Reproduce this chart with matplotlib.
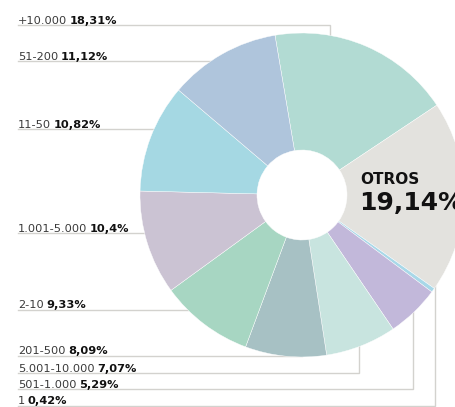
import matplotlib
matplotlib.use('Agg')
import matplotlib.pyplot as plt
import numpy as np

W, H = 456, 407  # output size in px (dpi 100)

# slices, clockwise starting at the top
categories = ['+10.000', 'OTROS', '1', '501-1.000', '5.001-10.000',
              '201-500', '2-10', '1.001-5.000', '11-50', '51-200']
shares = [18.31, 19.14, 0.42, 5.29, 7.07, 8.09, 9.33, 10.4, 10.82, 11.12]
colors = ['#b2dbd3', '#e3e2de', '#a8d8e8', '#c2b8da', '#c8e4df',
          '#a7c1c4', '#a7d6c2', '#cbc3d3', '#a5d8e3', '#afc5dc']

# labels on the left, top to bottom, with the row of their leader line (px from top)
label_order = ['+10.000', '51-200', '11-50', '1.001-5.000', '2-10',
               '201-500', '5.001-10.000', '501-1.000', '1']
label_rows = [25, 61, 129, 233, 310, 356, 373, 389, 406]
# labels whose line bends and goes vertically to the ring (x in px)
elbow_x = {'+10.000': 330, '5.001-10.000': 359, '501-1.000': 413, '1': 435}

cx, cy = 302, H - 195   # pie centre (y up)
R, r = 162, 45          # outer radius, hole radius
line_col = '#d3d2ce'

fig = plt.figure(figsize=(W / 100, H / 100), dpi=100)
ax = fig.add_axes([0, 0, 1, 1])

wedges, _ = ax.pie(shares, colors=colors, center=(cx, cy), radius=R,
                   startangle=99.6, counterclock=False,
                   wedgeprops=dict(width=R - r, edgecolor='white', linewidth=0.3))
for w in wedges:
    w.set_zorder(3)

ax.set_xlim(0, W)
ax.set_ylim(0, H)
ax.set_aspect('auto')
ax.axis('off')

for name, row in zip(label_order, label_rows):
    y = H - row
    val = shares[categories.index(name)]
    pct = f"{val:g}".replace('.', ',') + '%'
    if name in elbow_x:
        x = elbow_x[name]
        dx = x - cx
        dy = np.sqrt((R - 4) ** 2 - dx ** 2)
        y_end = cy + dy if y > cy else cy - dy
        ax.plot([18, x, x], [y, y, y_end], color=line_col, lw=1.0, zorder=1,
                solid_joinstyle='miter')
    else:
        dy = cy - y
        x_end = cx - np.sqrt(max((R - 4) ** 2 - dy ** 2, 0))
        ax.plot([18, x_end], [y, y], color=line_col, lw=1.0, zorder=1)
    t = ax.text(18, y + 1.5, name, fontsize=8.2, color='#3a3a3a',
                va='baseline', ha='left', family='DejaVu Sans')
    ax.annotate(pct, xy=(1, 0), xycoords=t, xytext=(1.8, 0),
                textcoords='offset points', fontsize=8.2, fontweight='bold',
                color='#111111', va='bottom', ha='left', family='DejaVu Sans')

# big label for the largest slice
ax.text(360, H - 179, 'OTROS', fontsize=11, fontweight='bold', color='#111111',
        va='center', ha='left', zorder=5)
ax.text(359, H - 203, f"{shares[1]:g}".replace('.', ',') + '%', fontsize=18,
        fontweight='bold', color='#111111', va='center', ha='left', zorder=5)

fig.savefig('out.png', dpi=100)
